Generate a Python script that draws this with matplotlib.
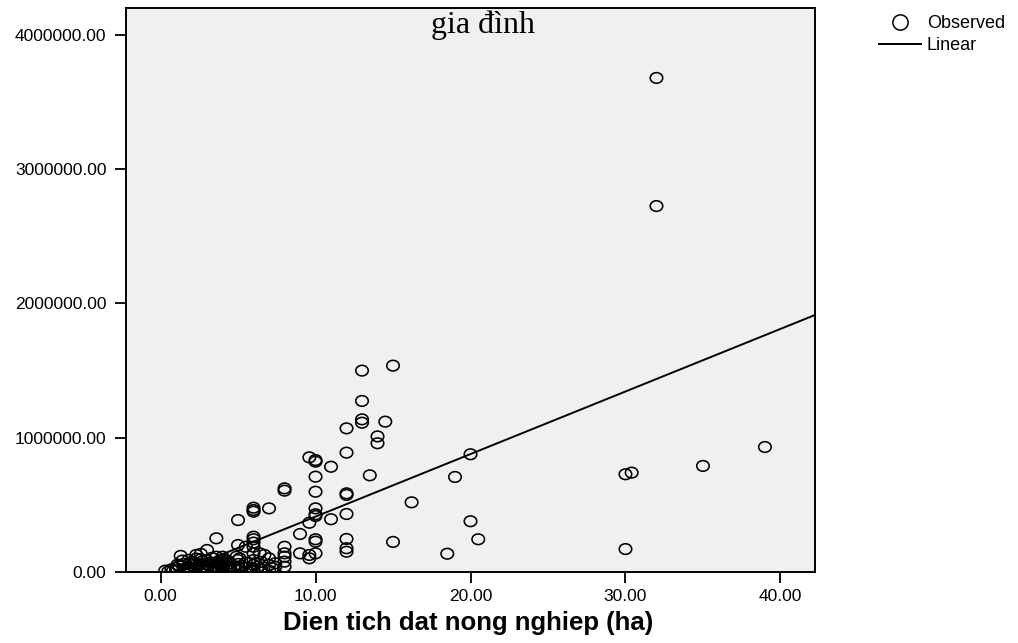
import matplotlib
matplotlib.use("Agg")
import matplotlib.pyplot as plt
import numpy as np
from matplotlib.path import Path
from matplotlib.transforms import Affine2D
from matplotlib.lines import Line2D

plt.rcParams['font.family'] = ['Liberation Sans', 'DejaVu Sans']

# land area (ha) and income
land_ha = [
    32.0, 32.0,
    13.0, 15.0, 13.0, 13.0, 13.0, 14.5, 14.0, 14.0, 12.0, 12.0, 13.5, 19.0, 20.0,
    12.0, 12.0, 16.2, 12.0, 20.0, 20.5, 15.0, 18.5, 12.0, 12.0, 12.0,
    30.0, 30.4, 35.0, 39.0, 30.0,
    9.6, 10.0, 10.0, 11.0, 10.0, 10.0, 8.0, 8.0, 6.0, 6.0, 6.0, 7.0, 5.0, 3.6,
    10.0, 10.0, 10.0, 11.0, 9.6, 9.0, 10.0, 10.0, 9.0, 9.6, 9.6, 10.0,
    8.0, 8.0, 8.0, 8.0, 8.0,
    6.0, 6.0, 6.0, 6.0, 6.0, 6.0, 6.0,
    5.0, 5.5, 7.0, 7.0, 6.7, 6.4, 7.4, 7.4,
    1.3, 2.3, 2.6, 3.0, 4.0, 4.0, 4.0, 5.0, 5.0, 4.5, 3.6, 4.9, 5.1,
    0.3, 0.5, 0.7, 0.8, 1.0, 1.0, 1.2, 1.5, 1.5, 1.7, 2.0, 2.0, 2.0, 2.2, 2.5,
    2.5, 2.8, 3.0, 3.0, 3.0, 3.0, 3.2, 3.5, 3.5, 3.8, 4.0, 4.0, 4.0, 4.0, 4.2,
    4.5, 4.5, 4.8, 5.0, 5.0, 5.2, 5.5, 5.5, 5.8, 6.0, 6.0, 6.3, 6.5, 6.5, 7.0,
    7.2, 1.8, 2.6, 3.3, 4.3,
    1.9, 2.1, 2.4, 2.7, 2.9, 3.1, 3.4, 3.6, 3.7, 3.9, 4.1, 4.4, 1.1, 1.4, 2.3,
    3.8, 4.0, 4.2, 5.9, 6.1,
]
income = [
    3680000, 2726000,
    1500000, 1537000, 1274000, 1137000, 1112000, 1120000, 1010000, 959000, 1070000, 889000, 720000, 708000, 877000,
    586000, 574000, 519000, 432000, 378000, 244000, 224000, 136000, 246000, 177000, 151000,
    728000, 740000, 790000, 931000, 171000,
    854000, 834000, 822000, 784000, 710000, 598000, 623000, 606000, 479000, 462000, 449000, 474000, 387000, 251000,
    474000, 430000, 417000, 393000, 367000, 283000, 244000, 226000, 139000, 127000, 102000, 139000,
    188000, 139000, 114000, 77000, 39000,
    263000, 244000, 219000, 188000, 139000, 89000, 52000,
    201000, 188000, 102000, 52000, 127000, 139000, 39000, 65000,
    120000, 127000, 135000, 164000, 114000, 77000, 39000, 89000, 39000, 65000, 114000, 114000, 102000,
    10000, 5000, 20000, 8000, 30000, 12000, 45000, 20000, 60000, 35000, 10000, 50000, 75000, 30000, 15000,
    60000, 40000, 10000, 30000, 55000, 85000, 70000, 20000, 45000, 60000, 5000, 20000, 55000, 95000, 30000,
    10000, 40000, 25000, 15000, 60000, 45000, 30000, 70000, 15000, 20000, 5000, 40000, 75000, 20000, 10000,
    30000, 90000, 95000, 105000, 85000,
    25000, 65000, 45000, 80000, 20000, 50000, 35000, 70000, 15000, 40000, 65000, 25000, 55000, 85000, 100000,
    10000, 45000, 70000, 30000, 65000,
]

# linear fit line as drawn in the picture
fit_intercept = -53500
fit_slope = 46600

y_ticks = [0, 1000000, 2000000, 3000000, 4000000]
x_ticks = [0, 10, 20, 30, 40]

fig = plt.figure(figsize=(10.18, 6.43), dpi=100)
ax = fig.add_axes([126 / 1018, 1 - 572 / 643, 689 / 1018, 564 / 643])
ax.set_facecolor('#f0f0f0')

# slightly flattened circle, like the SPSS marker
ellipse = Path.unit_circle().transformed(Affine2D().scale(1.0, 0.85))

ax.scatter(land_ha, income, marker=ellipse, s=9 ** 2, facecolors='none',
           edgecolors='black', linewidths=1.15, zorder=3)

ax.set_xlim(-2.23, 42.23)
ax.set_ylim(0, 4201000)

xs = np.array(ax.get_xlim())
ax.plot(xs, fit_intercept + fit_slope * xs, color='black', lw=1.4, zorder=2)

ax.set_xticks(x_ticks)
ax.set_xticklabels([f"{v:.2f}" for v in x_ticks])
ax.set_yticks(y_ticks)
ax.set_yticklabels([f"{v:.2f}" for v in y_ticks])
ax.tick_params(direction='out', length=8, width=1.3, labelsize=12.5)
ax.tick_params(axis='x', pad=4.5)
ax.tick_params(axis='y', pad=6)

for s in ax.spines.values():
    s.set_linewidth(1.4)

fig.text(468 / 1018, 1 - 630 / 643, "Dien tich dat nong nghiep (ha)",
         ha='center', va='baseline', fontsize=18.5, fontweight='bold')
fig.text(483 / 1018, 1 - 33 / 643, "gia đình", ha='center', va='baseline',
         fontsize=23, family=['Liberation Serif', 'DejaVu Serif'])

handles = [
    Line2D([], [], marker='o', ls='none', mfc='none', mec='black', ms=11, mew=1.1),
    Line2D([], [], color='black', lw=1.4),
]
fig.legend(handles, ['Observed', 'Linear'], loc='upper left',
           bbox_to_anchor=(870 / 1018, 1 - 6 / 643), frameon=False,
           fontsize=13, handlelength=2.3, handletextpad=0.35,
           labelspacing=0.3, borderpad=0)

fig.savefig('out.png', dpi=100)
